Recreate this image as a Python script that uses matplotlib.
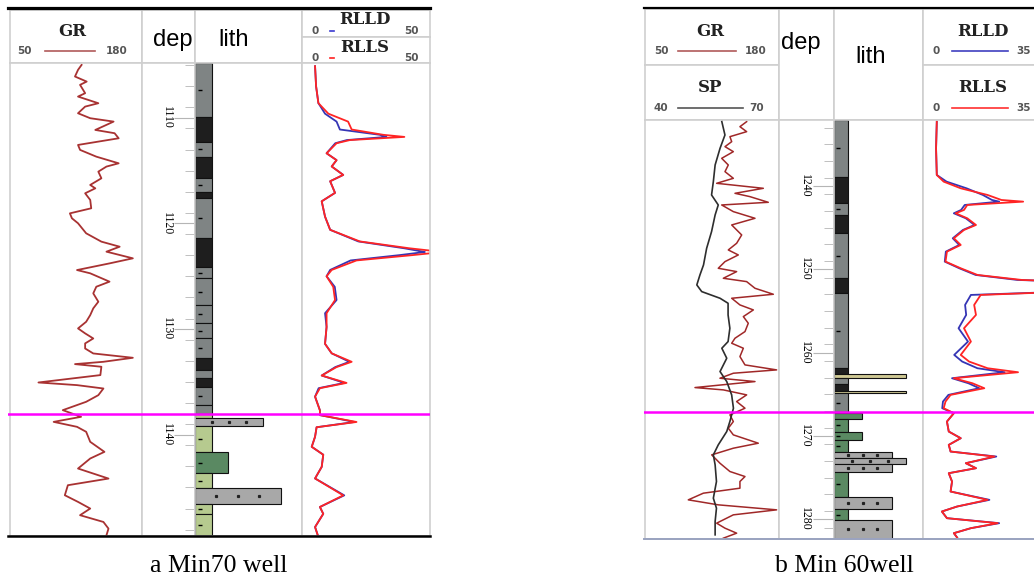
import matplotlib.pyplot as plt
from matplotlib.lines import Line2D

plt.rcParams['font.family'] = ['DejaVu Sans']

# ---------------- a: Min70 well ----------------
a_top, a_bot = 1104.8, 1149.6
a_contact = 1138.0
a_dep_labels = [1110, 1120, 1130, 1140]

a_gr_depth = [1104.98, 1105.45, 1106.08, 1106.56, 1106.87, 1107.66, 1107.98, 1108.61, 1108.93, 1109.56,
              1110.03, 1110.35, 1110.66, 1111.14, 1111.45, 1111.93, 1112.56, 1113.03, 1113.67, 1114.30,
              1114.61, 1115.09, 1115.72, 1116.35, 1116.67, 1117.14, 1117.77, 1118.56, 1119.04, 1119.51,
              1119.98, 1120.93, 1121.72, 1122.20, 1122.67, 1123.30, 1123.78, 1124.41, 1124.72, 1125.51,
              1125.99, 1126.62, 1127.41, 1128.04, 1128.68, 1129.31, 1129.94, 1130.41, 1130.89, 1131.36,
              1131.84, 1132.31, 1132.72, 1133.10, 1133.32, 1133.57, 1134.36, 1135.06, 1135.31, 1135.63,
              1136.26, 1136.89, 1137.68, 1138.31, 1138.79, 1139.26, 1139.73, 1140.68, 1141.63, 1142.26,
              1143.21, 1144.16, 1144.79, 1145.74, 1146.37, 1147.00, 1147.63, 1148.27, 1148.90, 1149.53]
a_gr = [120.5, 117, 114, 125.5, 119, 124, 117, 137, 124, 117,
        129, 152, 145, 134, 153, 157, 117, 119, 135, 157,
        145, 137, 140, 129, 134, 124, 129, 130, 109, 111,
        117, 125, 140, 158, 145, 171, 148, 116, 129, 148,
        135, 132, 137, 132, 129, 125, 117, 124, 132, 124,
        124, 132, 171, 142, 114, 140, 139, 78, 116, 142,
        137, 125, 102, 120, 93, 116, 125, 129, 143, 129,
        117, 147, 107, 104, 117, 129, 119, 142, 147, 145]

a_res_depth = [1105.1, 1107.0, 1108.6, 1109.6, 1110.35, 1111.1, 1111.6, 1111.8, 1112.1, 1112.4,
               1113.35, 1114.0, 1114.6, 1115.4, 1116.0, 1117.1, 1117.9, 1119.35, 1120.6, 1121.7,
               1122.35, 1122.7, 1123.0, 1123.5, 1124.4, 1125.0, 1126.0, 1127.25, 1128.5, 1129.8,
               1131.4, 1132.3, 1133.1, 1133.6, 1134.4, 1135.1, 1135.6, 1136.4, 1137.7, 1138.15,
               1138.8, 1139.3, 1140.2, 1141.15, 1141.9, 1143.05, 1144.15, 1145.75, 1146.85, 1147.5,
               1148.75, 1149.7]
a_rlls = [5.1, 5.5, 6.4, 10.3, 18.0, 19.4, 31.7, 40.0, 18.7, 13.5,
          9.6, 13.5, 11.6, 16.1, 11.0, 12.9, 7.7, 9.0, 11.0, 22.6,
          42.0, 55.0, 43.0, 21.3, 11.6, 9.6, 12.2, 12.9, 9.6, 9.6,
          9.0, 11.6, 19.4, 13.5, 7.7, 17.4, 7.0, 5.1, 7.0, 7.0,
          21.3, 5.7, 5.1, 3.8, 8.3, 7.7, 5.1, 16.1, 7.0, 8.3,
          5.1, 6.4]
a_rlld = [5.1, 5.5, 6.4, 9.0, 13.5, 14.8, 30.4, 33.0, 17.5, 13.0,
          9.6, 13.5, 11.6, 16.1, 11.0, 12.9, 7.7, 9.0, 11.0, 22.0,
          40.0, 48.0, 38.0, 19.0, 11.0, 9.6, 12.8, 13.5, 9.0, 9.6,
          9.0, 11.6, 18.5, 13.0, 7.7, 16.5, 6.5, 5.1, 7.0, 7.0,
          20.5, 5.7, 5.1, 3.8, 8.3, 7.7, 5.1, 16.5, 7.0, 8.3,
          5.1, 6.4]

a_lith_top = [1104.8, 1109.87, 1112.24, 1113.67, 1115.72, 1116.98, 1117.61, 1121.41, 1124.09, 1125.2,
              1127.73, 1129.47, 1130.89, 1132.78, 1133.89, 1134.68, 1135.47, 1137.21, 1138.0, 1138.47,
              1139.17, 1141.63, 1143.68, 1145.04, 1146.53, 1147.48]
a_lith_bot = [1109.87, 1112.24, 1113.67, 1115.72, 1116.98, 1117.61, 1121.41, 1124.09, 1125.2, 1127.73,
              1129.47, 1130.89, 1132.78, 1133.89, 1134.68, 1135.47, 1137.21, 1138.0, 1138.47, 1139.17,
              1141.63, 1143.68, 1145.04, 1146.53, 1147.48, 1149.6]
a_lith_kind = ['mud', 'dark', 'mud', 'dark', 'mud', 'dark', 'mud', 'dark', 'mud', 'mud',
               'mud', 'mud', 'mud', 'dark', 'mud', 'dark', 'mud', 'mud', 'lgreen', 'sand',
               'lgreen', 'dgreen', 'lgreen', 'sand', 'lgreen', 'lgreen']
a_lith_width = [0.16, 0.16, 0.16, 0.16, 0.16, 0.16, 0.16, 0.16, 0.16, 0.16,
                0.16, 0.16, 0.16, 0.16, 0.16, 0.16, 0.16, 0.16, 0.16, 0.64,
                0.16, 0.31, 0.16, 0.80, 0.16, 0.16]

# ---------------- b: Min 60 well ----------------
b_top, b_bot = 1232.08, 1282.38
b_contact = 1267.1
b_dep_labels = [1240, 1250, 1260, 1270, 1280]

b_gr_depth = [1232.28, 1232.88, 1233.48, 1234.08, 1234.68, 1235.28, 1235.88, 1236.68, 1237.48, 1238.28,
              1239.08, 1239.68, 1240.28, 1240.88, 1241.28, 1241.96, 1242.28, 1243.08, 1243.88, 1244.68,
              1245.88, 1246.88, 1247.68, 1248.28, 1249.08, 1249.88, 1250.28, 1251.08, 1251.48, 1252.28,
              1253.0, 1253.48, 1254.28, 1254.88, 1255.68, 1256.48, 1257.48, 1258.28, 1258.88, 1259.48,
              1260.48, 1261.48, 1262.08, 1262.48, 1263.08, 1263.48, 1264.2, 1264.48, 1265.08, 1265.88,
              1266.68, 1267.48, 1268.28, 1269.08, 1269.88, 1270.88, 1271.48, 1272.28, 1273.28, 1274.28,
              1274.88, 1275.48, 1276.28, 1276.88, 1277.68, 1278.28, 1278.88, 1279.48, 1280.48, 1281.08,
              1281.68, 1282.28]
b_gr = [148.6, 142.1, 148.6, 132.4, 134.1, 127.6, 135.7, 124.4, 130.8, 127.6,
        135.7, 119.5, 164.8, 137.3, 151.8, 169.6, 124.4, 135.7, 156.7, 134.1,
        143.8, 138.9, 130.8, 140.5, 127.6, 121.1, 138.9, 126.0, 148.6, 156.7,
        174.5, 134.1, 142.1, 155.1, 145.4, 150.2, 147.0, 137.3, 134.1, 145.4,
        142.1, 147.0, 177.7, 135.7, 122.7, 156.7, 98.5, 126.0, 148.6, 138.9,
        147.0, 132.4, 135.7, 130.8, 135.7, 159.9, 135.7, 114.7, 122.7, 132.4,
        147.0, 142.1, 142.1, 106.6, 92.0, 121.1, 177.7, 135.7, 119.5, 127.6,
        138.9, 126.0]

b_sp_depth = [1232.28, 1233.88, 1235.48, 1237.48, 1239.48, 1241.08, 1242.28, 1243.48, 1245.48, 1247.48,
              1249.48, 1250.68, 1251.88, 1252.68, 1253.48, 1254.08, 1255.48, 1257.08, 1258.68, 1259.48,
              1260.68, 1262.28, 1263.48, 1265.08, 1266.68, 1267.48, 1268.28, 1269.48, 1271.08, 1272.28,
              1273.48, 1275.48, 1277.48, 1278.68, 1280.28, 1281.88]
b_sp = [57.2, 57.9, 56.8, 55.7, 55.3, 54.9, 56.4, 55.7, 54.9, 53.8,
        53.1, 52.3, 51.6, 52.7, 56.8, 58.6, 58.6, 59.0, 58.6, 57.2,
        58.3, 56.8, 58.3, 59.4, 59.8, 59.4, 59.0, 58.3, 56.4, 55.3,
        55.7, 56.0, 55.3, 56.0, 55.7, 55.7]

b_res_depth = [1232.28, 1235.48, 1238.68, 1239.48, 1240.28, 1241.08, 1241.68, 1241.88, 1242.28, 1242.88,
               1243.28, 1243.88, 1244.68, 1245.28, 1246.28, 1247.08, 1247.88, 1249.08, 1249.88, 1250.68,
               1251.28, 1251.48, 1252.68, 1253.08, 1254.28, 1255.48, 1257.08, 1258.68, 1260.28, 1261.08,
               1261.88, 1262.36, 1263.08, 1263.68, 1264.28, 1265.08, 1265.88, 1266.68, 1267.28, 1268.28,
               1269.48, 1270.28, 1271.08, 1271.88, 1272.48, 1273.28, 1273.88, 1274.48, 1275.48, 1276.68,
               1277.68, 1278.48, 1279.08, 1279.88, 1280.48, 1281.08, 1281.68, 1282.2]
b_rlls = [3.8, 3.6, 3.8, 5.7, 10.4, 17.8, 21.6, 27.6, 12.2, 11.3,
          9.0, 12.2, 14.6, 11.3, 8.5, 10.4, 6.6, 6.2, 10.4, 15.0,
          27.2, 40.0, 40.0, 15.9, 14.1, 14.6, 11.3, 13.2, 10.4, 12.7,
          17.8, 26.2, 8.5, 13.6, 16.9, 7.6, 6.2, 5.7, 8.5, 6.6,
          7.1, 10.4, 7.1, 7.6, 19.7, 11.8, 14.6, 7.1, 8.0, 7.6,
          17.8, 9.4, 5.2, 6.6, 20.6, 13.2, 8.5, 9.4]
b_rlld = [3.8, 3.6, 3.8, 6.5, 12.0, 16.5, 19.0, 21.0, 11.5, 10.5,
          8.5, 11.8, 14.2, 11.0, 8.2, 10.0, 6.3, 6.0, 10.0, 14.5,
          26.0, 40.0, 40.0, 13.2, 11.6, 11.9, 9.8, 12.4, 8.6, 10.8,
          15.0, 22.5, 8.0, 12.5, 15.5, 7.0, 5.5, 5.3, 8.5, 6.6,
          7.1, 10.4, 7.1, 7.6, 20.2, 11.8, 14.6, 7.1, 8.0, 7.6,
          18.3, 9.4, 5.2, 6.6, 21.0, 13.2, 8.5, 9.4]

b_lith_top = [1232.08, 1238.88, 1242.08, 1243.48, 1245.68, 1251.08, 1252.88, 1261.88, 1262.6, 1263.1,
              1263.8, 1264.6, 1264.9, 1267.1, 1267.3, 1267.96, 1269.48, 1270.48, 1271.88, 1272.6,
              1273.4, 1274.36, 1277.28, 1278.8, 1280.08]
b_lith_bot = [1238.88, 1242.08, 1243.48, 1245.68, 1251.08, 1252.88, 1261.88, 1262.6, 1263.1, 1263.8,
              1264.6, 1264.9, 1267.1, 1267.3, 1267.96, 1269.48, 1270.48, 1271.88, 1272.6, 1273.4,
              1274.36, 1277.28, 1278.8, 1280.08, 1282.38]
b_lith_kind = ['mud', 'dark', 'mud', 'dark', 'mud', 'dark', 'mud', 'dark', 'khaki', 'mud',
               'dark', 'khaki', 'mud', 'dgreen', 'dgreen', 'dgreen', 'dgreen', 'dgreen', 'sand', 'sand',
               'sand', 'dgreen', 'sand', 'dgreen', 'sand']
b_lith_width = [0.157, 0.157, 0.157, 0.157, 0.157, 0.157, 0.157, 0.157, 0.81, 0.157,
                0.157, 0.81, 0.157, 0.157, 0.315, 0.157, 0.315, 0.157, 0.65, 0.81,
                0.65, 0.157, 0.65, 0.157, 0.65]

lith_colors = {'mud': '#7f8484', 'dark': '#1e1e1e', 'sand': '#a8a8a8',
               'lgreen': '#b6ca8f', 'dgreen': '#5a8962', 'khaki': '#cfc994'}

W, H = 1034, 581
fig = plt.figure(figsize=(W / 100, H / 100), dpi=100)


def box(x0, y0, x1, y1):
    return fig.add_axes([x0 / W, 1 - y1 / H, (x1 - x0) / W, (y1 - y0) / H])


def ftext(x, y, s, **kw):
    fig.text(x / W, 1 - y / H, s, ha='center', va='center', **kw)


def hline(x0, x1, y, color, lw=1.2):
    fig.add_artist(Line2D([x0 / W, x1 / W], [1 - y / H] * 2, color=color, lw=lw))


def cell(x0, y0, x1, y1):
    ax = box(x0, y0, x1, y1)
    ax.set_xticks([])
    ax.set_yticks([])
    for s in ax.spines.values():
        s.set_color('#cfcfcf')
        s.set_linewidth(1.2)
    return ax


def track(x0, x1, y0, y1, top, bot, xlim=(0, 1)):
    ax = cell(x0, y0, x1, y1)
    ax.set_ylim(bot, top)
    ax.set_xlim(*xlim)
    return ax


def dep_track(x0, x1, y0, y1, top, bot, labels):
    ax = track(x0, x1, y0, y1, top, bot)
    ax.yaxis.tick_right()
    ax.set_yticks(labels)
    ax.set_yticks(range(int(top) + 1, int(bot) + 1, 2), minor=True)
    ax.set_yticklabels([])
    ax.tick_params(axis='y', which='major', direction='in', length=15, color='#b5b5b5')
    ax.tick_params(axis='y', which='minor', direction='in', length=7, color='#b5b5b5')
    for d in labels:
        ax.text(0.47, d, str(d), transform=ax.get_yaxis_transform(), rotation=270,
                ha='center', va='center', fontsize=8.5, family='Liberation Serif')
    return ax


def lith_track(ax, tops, bots, kinds, widths):
    for t, b, k, w in zip(tops, bots, kinds, widths):
        ax.barh(t, w, height=b - t, left=0, align='edge', color=lith_colors[k],
                edgecolor='#111111', linewidth=0.8)
        mid = (t + b) / 2
        if k in ('mud', 'lgreen', 'dgreen') and b - t > 0.8:
            ax.plot([0.05], [mid], marker='_', ms=3, color='black', mew=1)
        if k == 'sand':
            ax.plot([w * 0.25, w * 0.5, w * 0.75], [mid] * 3, ls='none', marker='s',
                    ms=1.3, color='#222222')


serif_b = dict(family='DejaVu Serif', fontweight='bold', fontsize=12, color='#222222')
small = dict(fontsize=7.5, fontweight='bold', color='#555555')
big = dict(family='Liberation Sans', fontsize=17, color='black')

# ---------- panel a ----------
cell(10, 10, 142, 63)
ftext(72, 31, 'GR', **serif_b)
ftext(24, 51, '50', **small)
hline(45, 95, 51, '#b05a5a')
ftext(117, 51, '180', **small)
cell(142, 10, 195, 63)
ftext(173, 40, 'dep', **big)
cell(195, 10, 302, 63)
ftext(234, 40, 'lith', **big)
cell(302, 10, 430, 37)
ftext(365, 19, 'RLLD', **serif_b)
ftext(315, 31, '0', **small)
hline(330, 334, 31, '#3a3ad0')
ftext(411, 31, '50', **small)
cell(302, 37, 430, 63)
ftext(365, 47, 'RLLS', **serif_b)
ftext(315, 58, '0', **small)
hline(330, 334, 58, '#ff2020')
ftext(411, 58, '50', **small)

ax = track(10, 142, 63, 536, a_top, a_bot, (50, 180))
ax.plot(a_gr, a_gr_depth, color='#a83232', lw=1.3)
dep_track(142, 195, 63, 536, a_top, a_bot, a_dep_labels)
ax = track(195, 302, 63, 536, a_top, a_bot)
lith_track(ax, a_lith_top, a_lith_bot, a_lith_kind, a_lith_width)
ax = track(302, 430, 63, 536, a_top, a_bot, (0, 50))
ax.plot(a_rlld, a_res_depth, color='#3535b5', lw=1.3)
ax.plot(a_rlls, a_res_depth, color='#ff2424', lw=1.3)

ov = box(8, 63, 430, 536)
ov.set_ylim(a_bot, a_top)
ov.axis('off')
ov.axhline(a_contact, color='#ff00ff', lw=1.8)

hline(8, 430, 8, 'black', lw=2.3)
hline(8, 430, 536, 'black', lw=1.8)
ftext(219, 566, 'a Min70 well', family='Liberation Serif', fontsize=18.5)

# ---------- panel b ----------
cell(645, 9, 779, 65)
ftext(710, 32, 'GR', **serif_b)
ftext(661, 51, '50', **small)
hline(678, 736, 51, '#b05a5a')
ftext(756, 51, '180', **small)
cell(645, 65, 779, 120)
ftext(710, 88, 'SP', **serif_b)
ftext(661, 108, '40', **small)
hline(678, 743, 108, '#555555')
ftext(757, 108, '70', **small)
cell(779, 9, 834, 120)
ftext(801, 43, 'dep', **big)
cell(834, 9, 923, 120)
ftext(871, 57, 'lith', **big)
cell(923, 9, 1050, 65)
ftext(983, 32, 'RLLD', **serif_b)
ftext(936, 51, '0', **small)
hline(952, 1008, 51, '#4040c0')
ftext(1024, 51, '35', **small)
cell(923, 65, 1050, 120)
ftext(983, 88, 'RLLS', **serif_b)
ftext(936, 108, '0', **small)
hline(952, 1008, 108, '#ff3030')
ftext(1024, 108, '35', **small)

ax = track(645, 779, 120, 539, b_top, b_bot, (50, 180))
ax.plot(b_gr, b_gr_depth, color='#a02828', lw=1.1)
ax2 = ax.twiny()
ax2.set_xlim(40, 70)
ax2.set_xticks([])
ax2.axis('off')
ax2.plot(b_sp, b_sp_depth, color='#2e2e2e', lw=1.2)
dep_track(779, 834, 120, 539, b_top, b_bot, b_dep_labels)
ax = track(834, 923, 120, 539, b_top, b_bot)
lith_track(ax, b_lith_top, b_lith_bot, b_lith_kind, b_lith_width)
ax = track(923, 1050, 120, 539, b_top, b_bot, (0, 35))
ax.plot(b_rlld, b_res_depth, color='#3535b5', lw=1.3)
ax.plot(b_rlls, b_res_depth, color='#ff2424', lw=1.3)

ov = box(644, 120, 1034, 539)
ov.set_ylim(b_bot, b_top)
ov.axis('off')
ov.axhline(b_contact, color='#ff00ff', lw=1.8)

hline(644, 1034, 8, 'black', lw=1.6)
hline(644, 1034, 539, '#9aa3c0', lw=1.4)
ftext(844, 566, 'b Min 60well', family='Liberation Serif', fontsize=18.5)

fig.savefig('out.png', dpi=100)
